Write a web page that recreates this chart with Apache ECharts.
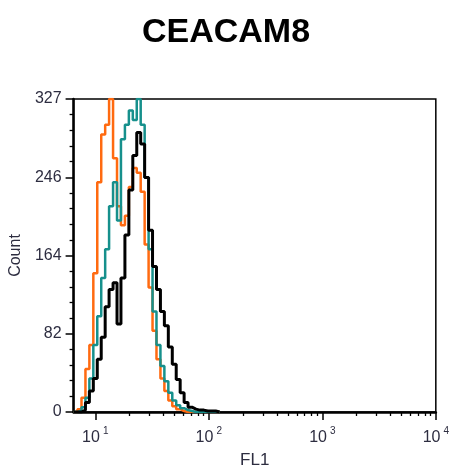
<!DOCTYPE html>
<html>
<head>
<meta charset="utf-8">
<script src="https://cdn.jsdelivr.net/npm/echarts@6/dist/echarts.min.js"></script>
<style>html,body{margin:0;padding:0;background:#fff}#c{width:452px;height:474px}</style>
</head>
<body>
<div id="c"></div>
<script>
// FL1 bin positions (channel values on log scale)
const fl1Bins = [6.44, 6.97, 7.56, 8.19, 8.87, 9.61, 10.41, 11.28, 12.22, 13.23,
  14.34, 15.54, 16.83, 18.24, 19.76, 21.40, 23.19, 25.12, 27.22, 29.49,
  31.94, 34.60, 37.49, 40.61, 44.00, 47.68, 51.64, 55.95, 60.62, 65.67,
  71.14, 77.09, 83.50, 90.47, 98.01, 106.2, 115.1, 124.6];
// Counts per bin for each overlaid histogram
const orangeCounts = [0, 3, 15, 45, 70, 145, 240, 290, 300, 327,
  265, 215, 195, 205, 235, 255, 250, 230, 175, 130,
  85, 55, 35, 22, 12, 6, 3, 1, 0, 0,
  0, 0, 0, 0, 0, 0, 0, 0];
const tealCounts = [0, 1, 5, 15, 35, 70, 100, 140, 170, 215,
  240, 200, 285, 300, 315, 305, 327, 300, 245, 170,
  105, 70, 48, 32, 20, 12, 7, 4, 2, 1,
  0, 0, 0, 0, 0, 0, 0, 0];
const blackCounts = [0, 0, 2, 10, 22, 35, 55, 78, 110, 128,
  135, 92, 140, 185, 232, 268, 292, 280, 245, 190,
  152, 128, 105, 90, 68, 50, 34, 20, 10, 5,
  3, 2, 2, 1, 1, 1, 0, 0];
const yTickLabels = ['0', '82', '164', '246', '327'];
const xMajorTicks = [10, 100, 1000, 10000];
const xMinorTicks = [20, 30, 40, 50, 60, 70, 80, 90, 200, 300, 400, 500, 600, 700, 800, 900,
  2000, 3000, 4000, 5000, 6000, 7000, 8000, 9000];

const pairs = arr => fl1Bins.map((x, i) => [x, arr[i]]);
const labelColor = '#2d2d40';

const chart = echarts.init(document.getElementById('c'), null, {renderer: 'canvas'});
chart.setOption({
  animation: false,
  backgroundColor: '#fff',
  title: {
    text: 'CEACAM8', left: 'center', top: 11,
    textStyle: {fontFamily: 'Liberation Sans', fontWeight: 'bold', fontSize: 34, color: '#000'}
  },
  grid: {left: 69, right: 14, top: 99, bottom: 62, show: true, borderColor: '#000', borderWidth: 1.5, backgroundColor: 'transparent'},
  xAxis: [{
    type: 'log', logBase: 10, min: 6.44, max: 10000, position: 'bottom',
    name: 'FL1', nameLocation: 'middle', nameGap: 40,
    nameTextStyle: {fontFamily: 'Liberation Sans', fontSize: 17, color: labelColor},
    axisLine: {onZero: false, lineStyle: {color: '#000', width: 2.5}},
    axisTick: {customValues: xMajorTicks, length: 8, lineStyle: {color: '#000', width: 1.5}},
    axisLabel: {
      customValues: xMajorTicks, margin: 14,
      formatter: v => '{b|10}{s|' + Math.round(Math.log10(v)) + '}',
      rich: {
        b: {fontFamily: 'Liberation Sans', fontSize: 16, color: labelColor, verticalAlign: 'bottom'},
        s: {fontFamily: 'Liberation Sans', fontSize: 10, color: labelColor, verticalAlign: 'top', padding: [0, 0, 10, 3]}
      }
    },
    splitLine: {show: false}
  }, {
    type: 'log', logBase: 10, min: 6.44, max: 10000, position: 'bottom',
    axisLine: {show: false, onZero: false},
    axisTick: {customValues: xMinorTicks, length: 4, lineStyle: {color: '#000', width: 1.3}},
    axisLabel: {show: false},
    splitLine: {show: false}
  }],
  yAxis: {
    type: 'value', min: 0, max: 327, interval: 81.75,
    name: 'Count', nameLocation: 'middle', nameGap: 46,
    nameTextStyle: {fontFamily: 'Liberation Sans', fontSize: 16, color: labelColor},
    axisLine: {lineStyle: {color: '#000', width: 2.5}},
    axisTick: {length: 8, lineStyle: {color: '#000', width: 1.5}},
    minorTick: {show: true, splitNumber: 5, length: 4, lineStyle: {color: '#000', width: 1.3}},
    axisLabel: {margin: 12, fontFamily: 'Liberation Sans', fontSize: 16, color: labelColor,
      formatter: (v, i) => yTickLabels[i]},
    splitLine: {show: false}
  },
  series: [
    {type: 'line', step: 'end', data: pairs(orangeCounts), showSymbol: false, symbol: 'none',
      lineStyle: {color: '#ff6a10', width: 2.5}, z: 2},
    {type: 'line', step: 'end', data: pairs(tealCounts), showSymbol: false, symbol: 'none',
      lineStyle: {color: '#16908c', width: 2.5}, z: 3},
    {type: 'line', step: 'end', data: pairs(blackCounts), showSymbol: false, symbol: 'none',
      lineStyle: {color: '#000', width: 3}, z: 4}
  ]
});
</script>
</body>
</html>
